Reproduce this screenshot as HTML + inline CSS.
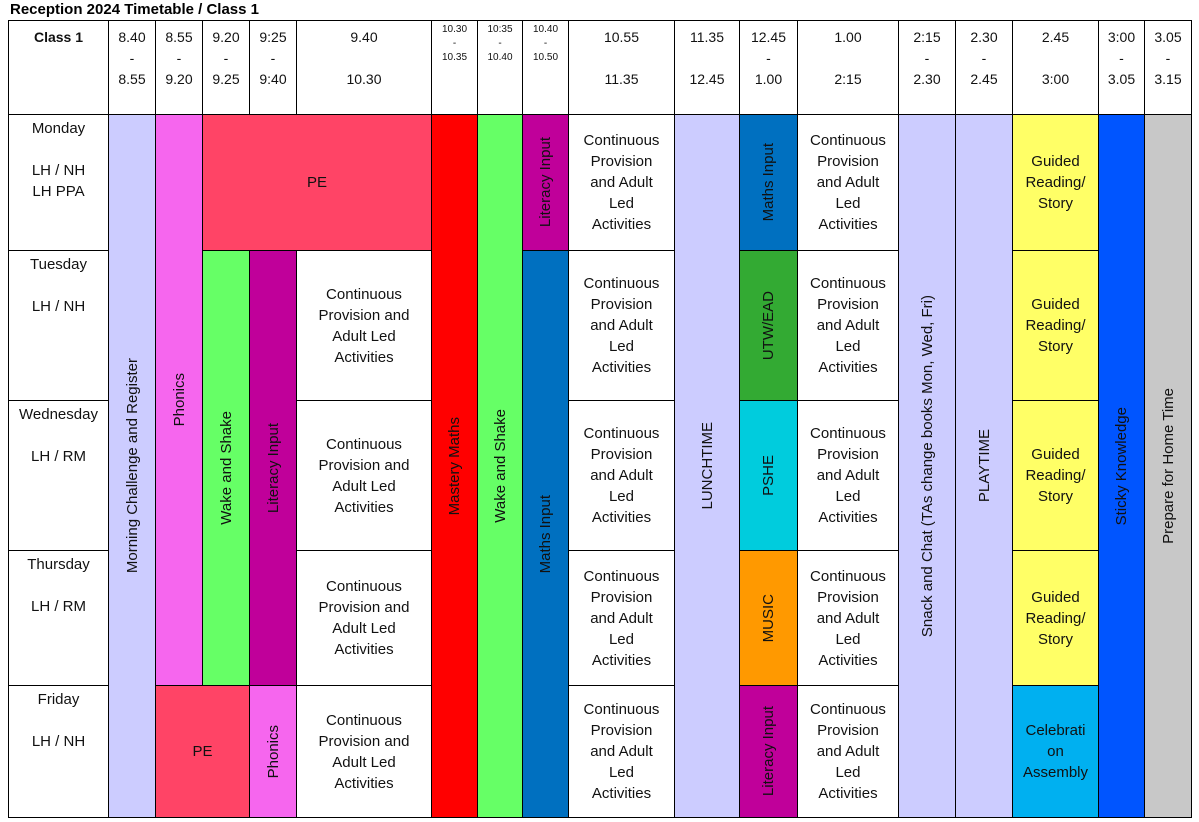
<!DOCTYPE html>
<html><head><meta charset="utf-8"><style>
body{margin:0;width:1199px;height:822px;background:#fff;font-family:"Liberation Sans",sans-serif;position:relative;overflow:hidden}
.c{position:absolute;box-sizing:border-box;border:1px solid #000;display:flex;align-items:center;justify-content:center;text-align:center;font-size:15px;line-height:21px;color:#111;margin:0 -1px -1px 0}
.h{align-items:flex-start;padding-top:6px;font-size:14px;line-height:21px}
.s{font-size:10px;line-height:14px;padding-top:2px}
.v span{writing-mode:vertical-rl;transform:rotate(180deg);white-space:nowrap}
.d{align-items:flex-start;padding-top:3px;line-height:21px}
.t{position:absolute;left:10px;top:1px;font-weight:bold;font-size:15px}
</style></head><body>
<div class="t">Reception 2024 Timetable / Class 1</div>
<div id="g"></div>
<script>
const cols=[8,108,155,202,249,296,431,477,522,568,674,739,797,898,955,1012,1098,1144,1191];
const rows=[20,114,250,400,550,685,817];
const heads=["<b>Class 1</b>","8.40<br>-<br>8.55","8.55<br>-<br>9.20","9.20<br>-<br>9.25","9:25<br>-<br>9:40","9.40<br><br>10.30","S10.30<br>-<br>10.35","S10:35<br>-<br>10.40","S10.40<br>-<br>10.50","10.55<br><br>11.35","11.35<br><br>12.45","12.45<br>-<br>1.00","1.00<br><br>2:15","2:15<br>-<br>2.30","2.30<br>-<br>2.45","2.45<br><br>3:00","3:00<br>-<br>3.05","3.05<br>-<br>3.15"];
const days=["Monday<br><br>LH / NH<br>LH PPA","Tuesday<br><br>LH / NH","Wednesday<br><br>LH / RM","Thursday<br><br>LH / RM","Friday<br><br>LH / NH"];
const CP="Continuous<br>Provision<br>and Adult<br>Led<br>Activities";
const CP2="Continuous<br>Provision and<br>Adult Led<br>Activities";
const GR="Guided<br>Reading/<br>Story";
// [c0,c1,r0,r1,text,color,vertical]
const cells=[
[1,2,1,6,"Morning Challenge and Register","#ccccff",1],
[2,3,1,5,"Phonics","#f666ee",1],
[2,4,5,6,"PE","#ff4466",0],
[3,6,1,2,"PE","#ff4466",0],
[3,4,2,5,"Wake and Shake","#66ff66",1],
[4,5,2,5,"Literacy Input","#c0009a",1],
[4,5,5,6,"Phonics","#f666ee",1],
[6,7,1,6,"Mastery Maths","#ff0000",1],
[7,8,1,6,"Wake and Shake","#66ff66",1],
[8,9,1,2,"Literacy Input","#c0009a",1],
[8,9,2,6,"Maths Input","#0070c0",1],
[10,11,1,6,"LUNCHTIME","#ccccff",1],
[11,12,1,2,"Maths Input","#0070c0",1],
[11,12,2,3,"UTW/EAD","#33aa33",1],
[11,12,3,4,"PSHE","#00ccdd",1],
[11,12,4,5,"MUSIC","#ff9900",1],
[11,12,5,6,"Literacy Input","#c0009a",1],
[13,14,1,6,"Snack and Chat (TAs change books Mon, Wed, Fri)","#ccccff",1],
[14,15,1,6,"PLAYTIME","#ccccff",1],
[15,16,5,6,"Celebrati<br>on<br>Assembly","#00b0f0",0],
[16,17,1,6,"Sticky Knowledge","#0055ff",1],
[17,18,1,6,"Prepare for Home Time","#c8c8c8",1]
];
for(let r=1;r<6;r++){
 if(r>1)cells.push([5,6,r,r+1,CP2,"#fff",0]);
 cells.push([9,10,r,r+1,CP,"#fff",0]);
 cells.push([12,13,r,r+1,CP,"#fff",0]);
 if(r<5)cells.push([15,16,r,r+1,GR,"#ffff66",0]);
}
const g=document.getElementById('g');
function mk(x0,x1,y0,y1,html,cls,bg){
 const d=document.createElement('div');
 d.className='c '+cls;
 d.style.left=x0+'px';d.style.top=y0+'px';d.style.width=(x1-x0+1)+'px';d.style.height=(y1-y0+1)+'px';
 if(bg)d.style.background=bg;
 d.innerHTML=html;g.appendChild(d);return d;
}
heads.forEach((h,i)=>{
 let s=h.startsWith('S');
 const d=mk(cols[i],cols[i+1],rows[0],rows[1],s?h.slice(1):h,'h'+(s?' s':''));
 
 
});
days.forEach((t,i)=>{
 const d=mk(cols[0],cols[1],rows[i+1],rows[i+2],t,'d');
 
 
});
cells.forEach(c=>{
 const d=mk(cols[c[0]],cols[c[1]],rows[c[2]],rows[c[3]],c[6]?'<span>'+c[4]+'</span>':c[4],c[6]?'v':'',c[5]);
 
 
});
</script>
</body></html>
